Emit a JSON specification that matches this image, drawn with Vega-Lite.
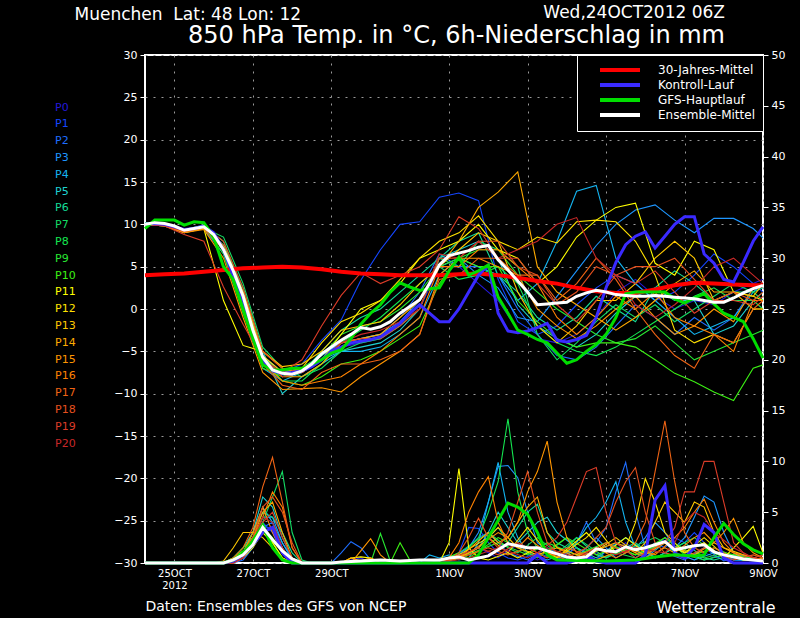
{
  "$schema": "https://vega.github.io/schema/vega-lite/v6.json",
  "width": 618,
  "height": 508,
  "autosize": "none",
  "padding": {"left": 145, "top": 55, "right": 37, "bottom": 55},
  "background": "black",
  "config": {
    "view": {"stroke": "white", "strokeWidth": 2},
    "font": "DejaVu Sans",
    "axis": {"labelFont": "DejaVu Sans", "titleFont": "DejaVu Sans"},
    "legend": {"labelFont": "DejaVu Sans"}
  },
  "title": {
    "text": "Wed,24OCT2012 06Z",
    "subtitle": "850 hPa Temp. in °C, 6h-Niederschlag in mm",
    "anchor": "end",
    "frame": "group",
    "dx": -38,
    "offset": -44,
    "color": "white",
    "subtitleColor": "white",
    "fontSize": 17,
    "subtitleFontSize": 24,
    "fontWeight": "normal",
    "subtitleFontWeight": "normal",
    "font": "DejaVu Sans",
    "subtitleFont": "DejaVu Sans",
    "subtitlePadding": 2
  },
  "datasets": {
    "temp": [
      {"m":"P0","h":0,"t":10},{"m":"P0","h":12,"t":9.9},{"m":"P0","h":24,"t":9.2},{"m":"P0","h":36,"t":9.6},{"m":"P0","h":48,"t":7.5},{"m":"P0","h":60,"t":1.5},{"m":"P0","h":72,"t":-6},{"m":"P0","h":84,"t":-7.8},{"m":"P0","h":96,"t":-7.5},{"m":"P0","h":108,"t":-6},{"m":"P0","h":120,"t":-4.5},{"m":"P0","h":132,"t":-4},{"m":"P0","h":144,"t":-3.5},{"m":"P0","h":156,"t":-2},{"m":"P0","h":168,"t":0},{"m":"P0","h":180,"t":5},{"m":"P0","h":192,"t":5},{"m":"P0","h":204,"t":3},{"m":"P0","h":216,"t":1},{"m":"P0","h":228,"t":-2.5},{"m":"P0","h":240,"t":-3.5},{"m":"P0","h":252,"t":-4},{"m":"P0","h":264,"t":-3},{"m":"P0","h":276,"t":-1},{"m":"P0","h":288,"t":2},{"m":"P0","h":300,"t":3.5},{"m":"P0","h":312,"t":1.5},{"m":"P0","h":324,"t":0},{"m":"P0","h":336,"t":1},{"m":"P0","h":348,"t":0.5},{"m":"P0","h":360,"t":2},{"m":"P0","h":372,"t":3},{"m":"P0","h":378,"t":3.5},
      {"m":"P1","h":0,"t":10.2},{"m":"P1","h":12,"t":10},{"m":"P1","h":24,"t":9.3},{"m":"P1","h":36,"t":9.8},{"m":"P1","h":48,"t":7},{"m":"P1","h":60,"t":0.5},{"m":"P1","h":72,"t":-6.5},{"m":"P1","h":84,"t":-7.5},{"m":"P1","h":96,"t":-6.5},{"m":"P1","h":108,"t":-3.7},{"m":"P1","h":120,"t":-1.3},{"m":"P1","h":132,"t":3.4},{"m":"P1","h":144,"t":7},{"m":"P1","h":156,"t":10},{"m":"P1","h":168,"t":10.3},{"m":"P1","h":180,"t":13.2},{"m":"P1","h":192,"t":13.7},{"m":"P1","h":204,"t":12.8},{"m":"P1","h":216,"t":3.5},{"m":"P1","h":228,"t":-1.5},{"m":"P1","h":240,"t":-3},{"m":"P1","h":252,"t":-2},{"m":"P1","h":264,"t":0.5},{"m":"P1","h":276,"t":2.5},{"m":"P1","h":288,"t":4},{"m":"P1","h":300,"t":3},{"m":"P1","h":312,"t":1},{"m":"P1","h":324,"t":2},{"m":"P1","h":336,"t":4},{"m":"P1","h":348,"t":6.5},{"m":"P1","h":360,"t":5},{"m":"P1","h":372,"t":3},{"m":"P1","h":378,"t":2},
      {"m":"P2","h":0,"t":10},{"m":"P2","h":12,"t":9.8},{"m":"P2","h":24,"t":9},{"m":"P2","h":36,"t":9.5},{"m":"P2","h":48,"t":6.5},{"m":"P2","h":60,"t":0},{"m":"P2","h":72,"t":-6.5},{"m":"P2","h":84,"t":-8},{"m":"P2","h":96,"t":-7},{"m":"P2","h":108,"t":-5.5},{"m":"P2","h":120,"t":-4},{"m":"P2","h":132,"t":-3.5},{"m":"P2","h":144,"t":-3},{"m":"P2","h":156,"t":-1},{"m":"P2","h":168,"t":2},{"m":"P2","h":180,"t":6.5},{"m":"P2","h":192,"t":5},{"m":"P2","h":204,"t":5},{"m":"P2","h":216,"t":4},{"m":"P2","h":228,"t":0},{"m":"P2","h":240,"t":-3},{"m":"P2","h":252,"t":-5.5},{"m":"P2","h":264,"t":-6},{"m":"P2","h":276,"t":-4.5},{"m":"P2","h":288,"t":-2},{"m":"P2","h":300,"t":0.5},{"m":"P2","h":312,"t":-1},{"m":"P2","h":324,"t":-3},{"m":"P2","h":336,"t":-1},{"m":"P2","h":348,"t":-2.5},{"m":"P2","h":360,"t":-1},{"m":"P2","h":372,"t":2.5},{"m":"P2","h":378,"t":3},
      {"m":"P3","h":0,"t":10.1},{"m":"P3","h":12,"t":10},{"m":"P3","h":24,"t":9.2},{"m":"P3","h":36,"t":9.7},{"m":"P3","h":48,"t":7.5},{"m":"P3","h":60,"t":2},{"m":"P3","h":72,"t":-5.5},{"m":"P3","h":84,"t":-7.5},{"m":"P3","h":96,"t":-7},{"m":"P3","h":108,"t":-5.5},{"m":"P3","h":120,"t":-4},{"m":"P3","h":132,"t":-3.5},{"m":"P3","h":144,"t":-3},{"m":"P3","h":156,"t":-1.5},{"m":"P3","h":168,"t":1},{"m":"P3","h":180,"t":5},{"m":"P3","h":192,"t":6},{"m":"P3","h":204,"t":4},{"m":"P3","h":216,"t":2.5},{"m":"P3","h":228,"t":-1},{"m":"P3","h":240,"t":-1.5},{"m":"P3","h":252,"t":1.5},{"m":"P3","h":264,"t":4.5},{"m":"P3","h":276,"t":7.5},{"m":"P3","h":288,"t":10},{"m":"P3","h":300,"t":11.7},{"m":"P3","h":312,"t":12.3},{"m":"P3","h":324,"t":10.5},{"m":"P3","h":336,"t":9},{"m":"P3","h":348,"t":10.7},{"m":"P3","h":360,"t":10.7},{"m":"P3","h":372,"t":9.5},{"m":"P3","h":378,"t":8.4},
      {"m":"P4","h":0,"t":10},{"m":"P4","h":12,"t":9.9},{"m":"P4","h":24,"t":9.1},{"m":"P4","h":36,"t":9.7},{"m":"P4","h":48,"t":7},{"m":"P4","h":60,"t":1},{"m":"P4","h":72,"t":-7},{"m":"P4","h":84,"t":-8.5},{"m":"P4","h":96,"t":-7.5},{"m":"P4","h":108,"t":-6},{"m":"P4","h":120,"t":-5},{"m":"P4","h":132,"t":-5},{"m":"P4","h":144,"t":-4.5},{"m":"P4","h":156,"t":-3},{"m":"P4","h":168,"t":-1},{"m":"P4","h":180,"t":4},{"m":"P4","h":192,"t":6},{"m":"P4","h":204,"t":5},{"m":"P4","h":216,"t":4},{"m":"P4","h":228,"t":1},{"m":"P4","h":240,"t":3},{"m":"P4","h":252,"t":8},{"m":"P4","h":264,"t":13.9},{"m":"P4","h":276,"t":14.6},{"m":"P4","h":288,"t":6},{"m":"P4","h":300,"t":3},{"m":"P4","h":312,"t":1},{"m":"P4","h":324,"t":-1},{"m":"P4","h":336,"t":-3},{"m":"P4","h":348,"t":-2},{"m":"P4","h":360,"t":-1},{"m":"P4","h":372,"t":2},{"m":"P4","h":378,"t":3},
      {"m":"P5","h":0,"t":10},{"m":"P5","h":12,"t":10.1},{"m":"P5","h":24,"t":9.4},{"m":"P5","h":36,"t":9.9},{"m":"P5","h":48,"t":7.5},{"m":"P5","h":60,"t":2.5},{"m":"P5","h":72,"t":-5},{"m":"P5","h":84,"t":-10},{"m":"P5","h":96,"t":-8},{"m":"P5","h":108,"t":-6.5},{"m":"P5","h":120,"t":-5},{"m":"P5","h":132,"t":-4.5},{"m":"P5","h":144,"t":-4},{"m":"P5","h":156,"t":-2.5},{"m":"P5","h":168,"t":0},{"m":"P5","h":180,"t":6},{"m":"P5","h":192,"t":7},{"m":"P5","h":204,"t":8},{"m":"P5","h":216,"t":6},{"m":"P5","h":228,"t":0.5},{"m":"P5","h":240,"t":-2},{"m":"P5","h":252,"t":-3.5},{"m":"P5","h":264,"t":-4.5},{"m":"P5","h":276,"t":-3},{"m":"P5","h":288,"t":-0.5},{"m":"P5","h":300,"t":1.5},{"m":"P5","h":312,"t":2.5},{"m":"P5","h":324,"t":1},{"m":"P5","h":336,"t":1},{"m":"P5","h":348,"t":-3},{"m":"P5","h":360,"t":-2},{"m":"P5","h":372,"t":1},{"m":"P5","h":378,"t":2},
      {"m":"P6","h":0,"t":10.1},{"m":"P6","h":12,"t":10},{"m":"P6","h":24,"t":9.3},{"m":"P6","h":36,"t":9.8},{"m":"P6","h":48,"t":8},{"m":"P6","h":60,"t":2},{"m":"P6","h":72,"t":-5.5},{"m":"P6","h":84,"t":-8},{"m":"P6","h":96,"t":-7.5},{"m":"P6","h":108,"t":-5},{"m":"P6","h":120,"t":-2.5},{"m":"P6","h":132,"t":-1},{"m":"P6","h":144,"t":0},{"m":"P6","h":156,"t":2},{"m":"P6","h":168,"t":4},{"m":"P6","h":180,"t":6},{"m":"P6","h":192,"t":8},{"m":"P6","h":204,"t":9},{"m":"P6","h":216,"t":4},{"m":"P6","h":228,"t":2},{"m":"P6","h":240,"t":-1},{"m":"P6","h":252,"t":-2.5},{"m":"P6","h":264,"t":-1},{"m":"P6","h":276,"t":1.5},{"m":"P6","h":288,"t":0},{"m":"P6","h":300,"t":-1.5},{"m":"P6","h":312,"t":2.5},{"m":"P6","h":324,"t":4.5},{"m":"P6","h":336,"t":3},{"m":"P6","h":348,"t":1},{"m":"P6","h":360,"t":2},{"m":"P6","h":372,"t":2},{"m":"P6","h":378,"t":2.5},
      {"m":"P7","h":0,"t":10},{"m":"P7","h":12,"t":9.9},{"m":"P7","h":24,"t":9.2},{"m":"P7","h":36,"t":9.6},{"m":"P7","h":48,"t":8.5},{"m":"P7","h":60,"t":3},{"m":"P7","h":72,"t":-4.5},{"m":"P7","h":84,"t":-7},{"m":"P7","h":96,"t":-8},{"m":"P7","h":108,"t":-7},{"m":"P7","h":120,"t":-5},{"m":"P7","h":132,"t":-4},{"m":"P7","h":144,"t":-3.5},{"m":"P7","h":156,"t":-2},{"m":"P7","h":168,"t":0},{"m":"P7","h":180,"t":6},{"m":"P7","h":192,"t":5},{"m":"P7","h":204,"t":8},{"m":"P7","h":216,"t":7},{"m":"P7","h":228,"t":5},{"m":"P7","h":240,"t":-3},{"m":"P7","h":252,"t":-6},{"m":"P7","h":264,"t":-4},{"m":"P7","h":276,"t":-1.5},{"m":"P7","h":288,"t":0.5},{"m":"P7","h":300,"t":-1},{"m":"P7","h":312,"t":0.5},{"m":"P7","h":324,"t":-1.5},{"m":"P7","h":336,"t":0},{"m":"P7","h":348,"t":1.5},{"m":"P7","h":360,"t":3},{"m":"P7","h":372,"t":2},{"m":"P7","h":378,"t":1},
      {"m":"P8","h":0,"t":10.2},{"m":"P8","h":12,"t":10.1},{"m":"P8","h":24,"t":9.4},{"m":"P8","h":36,"t":9.8},{"m":"P8","h":48,"t":7},{"m":"P8","h":60,"t":1},{"m":"P8","h":72,"t":-6},{"m":"P8","h":84,"t":-8.5},{"m":"P8","h":96,"t":-8.5},{"m":"P8","h":108,"t":-6.5},{"m":"P8","h":120,"t":-4},{"m":"P8","h":132,"t":-2.5},{"m":"P8","h":144,"t":-1},{"m":"P8","h":156,"t":1},{"m":"P8","h":168,"t":3},{"m":"P8","h":180,"t":5},{"m":"P8","h":192,"t":3.5},{"m":"P8","h":204,"t":4},{"m":"P8","h":216,"t":5},{"m":"P8","h":228,"t":3},{"m":"P8","h":240,"t":-2},{"m":"P8","h":252,"t":-4},{"m":"P8","h":264,"t":-5},{"m":"P8","h":276,"t":-5.5},{"m":"P8","h":288,"t":-4.5},{"m":"P8","h":300,"t":-3},{"m":"P8","h":312,"t":-1.5},{"m":"P8","h":324,"t":0},{"m":"P8","h":336,"t":1.5},{"m":"P8","h":348,"t":2.5},{"m":"P8","h":360,"t":1},{"m":"P8","h":372,"t":1},{"m":"P8","h":378,"t":0},
      {"m":"P9","h":0,"t":10},{"m":"P9","h":12,"t":10},{"m":"P9","h":24,"t":9.2},{"m":"P9","h":36,"t":9.7},{"m":"P9","h":48,"t":6.5},{"m":"P9","h":60,"t":-0.5},{"m":"P9","h":72,"t":-7},{"m":"P9","h":84,"t":-8},{"m":"P9","h":96,"t":-7},{"m":"P9","h":108,"t":-5.5},{"m":"P9","h":120,"t":-3},{"m":"P9","h":132,"t":-2},{"m":"P9","h":144,"t":-1.5},{"m":"P9","h":156,"t":0},{"m":"P9","h":168,"t":2},{"m":"P9","h":180,"t":5},{"m":"P9","h":192,"t":6},{"m":"P9","h":204,"t":7},{"m":"P9","h":216,"t":7},{"m":"P9","h":228,"t":4},{"m":"P9","h":240,"t":2},{"m":"P9","h":252,"t":0},{"m":"P9","h":264,"t":-1.5},{"m":"P9","h":276,"t":-3},{"m":"P9","h":288,"t":-4},{"m":"P9","h":300,"t":-3.5},{"m":"P9","h":312,"t":-2},{"m":"P9","h":324,"t":-4},{"m":"P9","h":336,"t":-6},{"m":"P9","h":348,"t":-5},{"m":"P9","h":360,"t":-4},{"m":"P9","h":372,"t":-3},{"m":"P9","h":378,"t":-2.5},
      {"m":"P10","h":0,"t":10.1},{"m":"P10","h":12,"t":10},{"m":"P10","h":24,"t":9.3},{"m":"P10","h":36,"t":9.8},{"m":"P10","h":48,"t":7.5},{"m":"P10","h":60,"t":1.5},{"m":"P10","h":72,"t":-6},{"m":"P10","h":84,"t":-8.5},{"m":"P10","h":96,"t":-9},{"m":"P10","h":108,"t":-8},{"m":"P10","h":120,"t":-6.5},{"m":"P10","h":132,"t":-6},{"m":"P10","h":144,"t":-5},{"m":"P10","h":156,"t":-3.5},{"m":"P10","h":168,"t":-2},{"m":"P10","h":180,"t":3},{"m":"P10","h":192,"t":6},{"m":"P10","h":204,"t":5},{"m":"P10","h":216,"t":5},{"m":"P10","h":228,"t":1},{"m":"P10","h":240,"t":-1.5},{"m":"P10","h":252,"t":-3.5},{"m":"P10","h":264,"t":-4.5},{"m":"P10","h":276,"t":-4},{"m":"P10","h":288,"t":-4},{"m":"P10","h":300,"t":-4.5},{"m":"P10","h":312,"t":-6},{"m":"P10","h":324,"t":-7.6},{"m":"P10","h":336,"t":-8.6},{"m":"P10","h":348,"t":-9.8},{"m":"P10","h":360,"t":-10.8},{"m":"P10","h":372,"t":-7},{"m":"P10","h":378,"t":-6.6},
      {"m":"P11","h":0,"t":10},{"m":"P11","h":12,"t":9.8},{"m":"P11","h":24,"t":9},{"m":"P11","h":36,"t":9.5},{"m":"P11","h":48,"t":1},{"m":"P11","h":60,"t":-4.3},{"m":"P11","h":72,"t":-5},{"m":"P11","h":84,"t":-7},{"m":"P11","h":96,"t":-7.5},{"m":"P11","h":108,"t":-6},{"m":"P11","h":120,"t":-3},{"m":"P11","h":132,"t":0},{"m":"P11","h":144,"t":1},{"m":"P11","h":156,"t":3},{"m":"P11","h":168,"t":6},{"m":"P11","h":180,"t":7},{"m":"P11","h":192,"t":8},{"m":"P11","h":204,"t":10},{"m":"P11","h":216,"t":7},{"m":"P11","h":228,"t":6},{"m":"P11","h":240,"t":3},{"m":"P11","h":252,"t":5},{"m":"P11","h":264,"t":8.5},{"m":"P11","h":276,"t":10.5},{"m":"P11","h":288,"t":12},{"m":"P11","h":300,"t":12.5},{"m":"P11","h":312,"t":5.4},{"m":"P11","h":324,"t":4},{"m":"P11","h":336,"t":8},{"m":"P11","h":348,"t":7},{"m":"P11","h":360,"t":2},{"m":"P11","h":372,"t":1.5},{"m":"P11","h":378,"t":1},
      {"m":"P12","h":0,"t":10},{"m":"P12","h":12,"t":9.9},{"m":"P12","h":24,"t":9.2},{"m":"P12","h":36,"t":9.6},{"m":"P12","h":48,"t":7},{"m":"P12","h":60,"t":1.5},{"m":"P12","h":72,"t":-5.5},{"m":"P12","h":84,"t":-7.5},{"m":"P12","h":96,"t":-7},{"m":"P12","h":108,"t":-4},{"m":"P12","h":120,"t":-1.5},{"m":"P12","h":132,"t":-0.5},{"m":"P12","h":144,"t":1},{"m":"P12","h":156,"t":3.5},{"m":"P12","h":168,"t":6},{"m":"P12","h":180,"t":8},{"m":"P12","h":192,"t":9},{"m":"P12","h":204,"t":11},{"m":"P12","h":216,"t":8},{"m":"P12","h":228,"t":7},{"m":"P12","h":240,"t":8.5},{"m":"P12","h":252,"t":7.8},{"m":"P12","h":264,"t":10.3},{"m":"P12","h":276,"t":10.5},{"m":"P12","h":288,"t":10.3},{"m":"P12","h":300,"t":8},{"m":"P12","h":312,"t":4},{"m":"P12","h":324,"t":-2.5},{"m":"P12","h":336,"t":-4},{"m":"P12","h":348,"t":-3},{"m":"P12","h":360,"t":-4},{"m":"P12","h":372,"t":0},{"m":"P12","h":378,"t":0},
      {"m":"P13","h":0,"t":10.1},{"m":"P13","h":12,"t":10},{"m":"P13","h":24,"t":9.3},{"m":"P13","h":36,"t":9.8},{"m":"P13","h":48,"t":7.5},{"m":"P13","h":60,"t":2},{"m":"P13","h":72,"t":-5},{"m":"P13","h":84,"t":-6.8},{"m":"P13","h":96,"t":-6.5},{"m":"P13","h":108,"t":-5},{"m":"P13","h":120,"t":-2.5},{"m":"P13","h":132,"t":-2},{"m":"P13","h":144,"t":-1.5},{"m":"P13","h":156,"t":0.5},{"m":"P13","h":168,"t":3},{"m":"P13","h":180,"t":5},{"m":"P13","h":192,"t":7},{"m":"P13","h":204,"t":9},{"m":"P13","h":216,"t":8},{"m":"P13","h":228,"t":2},{"m":"P13","h":240,"t":-2},{"m":"P13","h":252,"t":-4},{"m":"P13","h":264,"t":-2},{"m":"P13","h":276,"t":1},{"m":"P13","h":288,"t":1},{"m":"P13","h":300,"t":3},{"m":"P13","h":312,"t":6},{"m":"P13","h":324,"t":8},{"m":"P13","h":336,"t":6},{"m":"P13","h":348,"t":1},{"m":"P13","h":360,"t":2},{"m":"P13","h":372,"t":1.5},{"m":"P13","h":378,"t":3},
      {"m":"P14","h":0,"t":10},{"m":"P14","h":12,"t":9.9},{"m":"P14","h":24,"t":9.1},{"m":"P14","h":36,"t":9.6},{"m":"P14","h":48,"t":7},{"m":"P14","h":60,"t":1},{"m":"P14","h":72,"t":-6},{"m":"P14","h":84,"t":-8},{"m":"P14","h":96,"t":-8},{"m":"P14","h":108,"t":-6.5},{"m":"P14","h":120,"t":-4},{"m":"P14","h":132,"t":-3.5},{"m":"P14","h":144,"t":-3},{"m":"P14","h":156,"t":-1},{"m":"P14","h":168,"t":1},{"m":"P14","h":180,"t":5},{"m":"P14","h":192,"t":8},{"m":"P14","h":204,"t":12},{"m":"P14","h":216,"t":13.8},{"m":"P14","h":228,"t":16.2},{"m":"P14","h":240,"t":5},{"m":"P14","h":252,"t":2},{"m":"P14","h":264,"t":0.5},{"m":"P14","h":276,"t":-1},{"m":"P14","h":288,"t":-2.5},{"m":"P14","h":300,"t":-1},{"m":"P14","h":312,"t":1},{"m":"P14","h":324,"t":3},{"m":"P14","h":336,"t":4.5},{"m":"P14","h":348,"t":2},{"m":"P14","h":360,"t":2},{"m":"P14","h":372,"t":0},{"m":"P14","h":378,"t":0},
      {"m":"P15","h":0,"t":10},{"m":"P15","h":12,"t":9.8},{"m":"P15","h":24,"t":9},{"m":"P15","h":36,"t":9.4},{"m":"P15","h":48,"t":6},{"m":"P15","h":60,"t":-1},{"m":"P15","h":72,"t":-7.5},{"m":"P15","h":84,"t":-9.5},{"m":"P15","h":96,"t":-9.4},{"m":"P15","h":108,"t":-9.3},{"m":"P15","h":120,"t":-9.8},{"m":"P15","h":132,"t":-8},{"m":"P15","h":144,"t":-6.5},{"m":"P15","h":156,"t":-5},{"m":"P15","h":168,"t":-3},{"m":"P15","h":180,"t":4},{"m":"P15","h":192,"t":6},{"m":"P15","h":204,"t":6},{"m":"P15","h":216,"t":5},{"m":"P15","h":228,"t":4},{"m":"P15","h":240,"t":0},{"m":"P15","h":252,"t":-2},{"m":"P15","h":264,"t":-3.5},{"m":"P15","h":276,"t":-2},{"m":"P15","h":288,"t":0},{"m":"P15","h":300,"t":1.5},{"m":"P15","h":312,"t":-1},{"m":"P15","h":324,"t":-3},{"m":"P15","h":336,"t":-2},{"m":"P15","h":348,"t":0},{"m":"P15","h":360,"t":-1.5},{"m":"P15","h":372,"t":2.5},{"m":"P15","h":378,"t":3},
      {"m":"P16","h":0,"t":10.1},{"m":"P16","h":12,"t":10},{"m":"P16","h":24,"t":9.2},{"m":"P16","h":36,"t":9.7},{"m":"P16","h":48,"t":7.5},{"m":"P16","h":60,"t":1},{"m":"P16","h":72,"t":-6.5},{"m":"P16","h":84,"t":-8.5},{"m":"P16","h":96,"t":-9},{"m":"P16","h":108,"t":-8.5},{"m":"P16","h":120,"t":-8},{"m":"P16","h":132,"t":-6.5},{"m":"P16","h":144,"t":-5},{"m":"P16","h":156,"t":-3},{"m":"P16","h":168,"t":-1},{"m":"P16","h":180,"t":5},{"m":"P16","h":192,"t":5},{"m":"P16","h":204,"t":7},{"m":"P16","h":216,"t":7},{"m":"P16","h":228,"t":5},{"m":"P16","h":240,"t":3},{"m":"P16","h":252,"t":-1},{"m":"P16","h":264,"t":-3},{"m":"P16","h":276,"t":-1},{"m":"P16","h":288,"t":1.5},{"m":"P16","h":300,"t":0},{"m":"P16","h":312,"t":2},{"m":"P16","h":324,"t":-1},{"m":"P16","h":336,"t":-2},{"m":"P16","h":348,"t":-3},{"m":"P16","h":360,"t":-5},{"m":"P16","h":372,"t":1},{"m":"P16","h":378,"t":1},
      {"m":"P17","h":0,"t":10},{"m":"P17","h":12,"t":9.9},{"m":"P17","h":24,"t":9.1},{"m":"P17","h":36,"t":9.6},{"m":"P17","h":48,"t":7},{"m":"P17","h":60,"t":0.5},{"m":"P17","h":72,"t":-6.5},{"m":"P17","h":84,"t":-9},{"m":"P17","h":96,"t":-9.5},{"m":"P17","h":108,"t":-7.5},{"m":"P17","h":120,"t":-6.5},{"m":"P17","h":132,"t":-6.5},{"m":"P17","h":144,"t":-6},{"m":"P17","h":156,"t":-5},{"m":"P17","h":168,"t":-3},{"m":"P17","h":180,"t":3.5},{"m":"P17","h":192,"t":4},{"m":"P17","h":204,"t":6},{"m":"P17","h":216,"t":6},{"m":"P17","h":228,"t":4},{"m":"P17","h":240,"t":4},{"m":"P17","h":252,"t":1},{"m":"P17","h":264,"t":3},{"m":"P17","h":276,"t":6},{"m":"P17","h":288,"t":3.5},{"m":"P17","h":300,"t":0},{"m":"P17","h":312,"t":-3},{"m":"P17","h":324,"t":-5.5},{"m":"P17","h":336,"t":-7},{"m":"P17","h":348,"t":-3},{"m":"P17","h":360,"t":-4},{"m":"P17","h":372,"t":0},{"m":"P17","h":378,"t":1},
      {"m":"P18","h":0,"t":10.1},{"m":"P18","h":12,"t":10},{"m":"P18","h":24,"t":9.3},{"m":"P18","h":36,"t":9.8},{"m":"P18","h":48,"t":8},{"m":"P18","h":60,"t":2.5},{"m":"P18","h":72,"t":-5},{"m":"P18","h":84,"t":-7},{"m":"P18","h":96,"t":-7.5},{"m":"P18","h":108,"t":-6},{"m":"P18","h":120,"t":-4},{"m":"P18","h":132,"t":-3.5},{"m":"P18","h":144,"t":-3.5},{"m":"P18","h":156,"t":-2},{"m":"P18","h":168,"t":0},{"m":"P18","h":180,"t":6},{"m":"P18","h":192,"t":6},{"m":"P18","h":204,"t":8},{"m":"P18","h":216,"t":8},{"m":"P18","h":228,"t":5},{"m":"P18","h":240,"t":4},{"m":"P18","h":252,"t":0.5},{"m":"P18","h":264,"t":2},{"m":"P18","h":276,"t":5},{"m":"P18","h":288,"t":4},{"m":"P18","h":300,"t":5},{"m":"P18","h":312,"t":5},{"m":"P18","h":324,"t":6},{"m":"P18","h":336,"t":3.5},{"m":"P18","h":348,"t":1},{"m":"P18","h":360,"t":2},{"m":"P18","h":372,"t":1},{"m":"P18","h":378,"t":2},
      {"m":"P19","h":0,"t":10},{"m":"P19","h":12,"t":9.8},{"m":"P19","h":24,"t":8.8},{"m":"P19","h":36,"t":8},{"m":"P19","h":48,"t":2.6},{"m":"P19","h":60,"t":-1.8},{"m":"P19","h":72,"t":-6},{"m":"P19","h":84,"t":-7.5},{"m":"P19","h":96,"t":-6},{"m":"P19","h":108,"t":-2},{"m":"P19","h":120,"t":1.6},{"m":"P19","h":132,"t":4.3},{"m":"P19","h":144,"t":3},{"m":"P19","h":156,"t":4},{"m":"P19","h":168,"t":5},{"m":"P19","h":180,"t":7},{"m":"P19","h":192,"t":10.9},{"m":"P19","h":204,"t":9.5},{"m":"P19","h":216,"t":6},{"m":"P19","h":228,"t":6},{"m":"P19","h":240,"t":3},{"m":"P19","h":252,"t":0.5},{"m":"P19","h":264,"t":-1.5},{"m":"P19","h":276,"t":1},{"m":"P19","h":288,"t":4},{"m":"P19","h":300,"t":3},{"m":"P19","h":312,"t":4.5},{"m":"P19","h":324,"t":2},{"m":"P19","h":336,"t":-0.5},{"m":"P19","h":348,"t":1},{"m":"P19","h":360,"t":1},{"m":"P19","h":372,"t":0.5},{"m":"P19","h":378,"t":1.5},
      {"m":"P20","h":0,"t":10},{"m":"P20","h":12,"t":9.9},{"m":"P20","h":24,"t":9.2},{"m":"P20","h":36,"t":9.7},{"m":"P20","h":48,"t":7},{"m":"P20","h":60,"t":1},{"m":"P20","h":72,"t":-6},{"m":"P20","h":84,"t":-8},{"m":"P20","h":96,"t":-7.5},{"m":"P20","h":108,"t":-6},{"m":"P20","h":120,"t":-4},{"m":"P20","h":132,"t":-3},{"m":"P20","h":144,"t":-2.5},{"m":"P20","h":156,"t":-1.5},{"m":"P20","h":168,"t":0},{"m":"P20","h":180,"t":6.5},{"m":"P20","h":192,"t":6},{"m":"P20","h":204,"t":8},{"m":"P20","h":216,"t":6},{"m":"P20","h":228,"t":7},{"m":"P20","h":240,"t":8},{"m":"P20","h":252,"t":10},{"m":"P20","h":264,"t":10.8},{"m":"P20","h":276,"t":6},{"m":"P20","h":288,"t":4},{"m":"P20","h":300,"t":0.5},{"m":"P20","h":312,"t":-1},{"m":"P20","h":324,"t":0.5},{"m":"P20","h":336,"t":2.5},{"m":"P20","h":348,"t":5},{"m":"P20","h":360,"t":6},{"m":"P20","h":372,"t":4},{"m":"P20","h":378,"t":3},
      {"m":"R","h":0,"t":4},{"m":"R","h":12,"t":4.1},{"m":"R","h":24,"t":4.2},{"m":"R","h":36,"t":4.4},{"m":"R","h":48,"t":4.6},{"m":"R","h":60,"t":4.8},{"m":"R","h":72,"t":4.9},{"m":"R","h":84,"t":5},{"m":"R","h":96,"t":4.9},{"m":"R","h":108,"t":4.7},{"m":"R","h":120,"t":4.4},{"m":"R","h":132,"t":4.2},{"m":"R","h":144,"t":4.1},{"m":"R","h":156,"t":4},{"m":"R","h":168,"t":4},{"m":"R","h":180,"t":4},{"m":"R","h":192,"t":4.1},{"m":"R","h":204,"t":4.2},{"m":"R","h":216,"t":4},{"m":"R","h":228,"t":3.7},{"m":"R","h":240,"t":3.3},{"m":"R","h":252,"t":3},{"m":"R","h":264,"t":2.5},{"m":"R","h":276,"t":2.1},{"m":"R","h":288,"t":1.9},{"m":"R","h":300,"t":1.9},{"m":"R","h":312,"t":2.3},{"m":"R","h":324,"t":2.8},{"m":"R","h":336,"t":3.1},{"m":"R","h":348,"t":3},{"m":"R","h":360,"t":2.9},{"m":"R","h":372,"t":2.8},{"m":"R","h":378,"t":2.8},
      {"m":"C","h":0,"t":10},{"m":"C","h":6,"t":10.1},{"m":"C","h":12,"t":10},{"m":"C","h":18,"t":9.7},{"m":"C","h":24,"t":9.4},{"m":"C","h":30,"t":9.5},{"m":"C","h":36,"t":9.8},{"m":"C","h":42,"t":9},{"m":"C","h":48,"t":7},{"m":"C","h":54,"t":4},{"m":"C","h":60,"t":0.5},{"m":"C","h":66,"t":-3.5},{"m":"C","h":72,"t":-6},{"m":"C","h":78,"t":-7.3},{"m":"C","h":84,"t":-7.6},{"m":"C","h":90,"t":-7.5},{"m":"C","h":96,"t":-7.3},{"m":"C","h":102,"t":-6.8},{"m":"C","h":108,"t":-6},{"m":"C","h":114,"t":-5},{"m":"C","h":120,"t":-4.5},{"m":"C","h":126,"t":-4},{"m":"C","h":132,"t":-3.8},{"m":"C","h":138,"t":-3.6},{"m":"C","h":144,"t":-3.3},{"m":"C","h":150,"t":-2.5},{"m":"C","h":156,"t":-1.7},{"m":"C","h":162,"t":-0.5},{"m":"C","h":168,"t":0.5},{"m":"C","h":174,"t":-0.5},{"m":"C","h":180,"t":-1.5},{"m":"C","h":186,"t":-1.5},{"m":"C","h":192,"t":0},{"m":"C","h":198,"t":2},{"m":"C","h":204,"t":4},{"m":"C","h":210,"t":5.2},{"m":"C","h":216,"t":-0.5},{"m":"C","h":222,"t":-2.6},{"m":"C","h":228,"t":-2.8},{"m":"C","h":234,"t":-2.6},{"m":"C","h":240,"t":-2.2},{"m":"C","h":246,"t":-1.7},{"m":"C","h":252,"t":-3.7},{"m":"C","h":258,"t":-3.9},{"m":"C","h":264,"t":-3.6},{"m":"C","h":270,"t":-3.1},{"m":"C","h":276,"t":-1},{"m":"C","h":282,"t":2.5},{"m":"C","h":288,"t":5.5},{"m":"C","h":294,"t":7.6},{"m":"C","h":300,"t":8.6},{"m":"C","h":306,"t":9.1},{"m":"C","h":312,"t":7.2},{"m":"C","h":318,"t":8.6},{"m":"C","h":324,"t":10},{"m":"C","h":330,"t":10.9},{"m":"C","h":336,"t":10.9},{"m":"C","h":342,"t":6.5},{"m":"C","h":348,"t":5.4},{"m":"C","h":354,"t":3.5},{"m":"C","h":360,"t":3.2},{"m":"C","h":366,"t":5.5},{"m":"C","h":372,"t":8},{"m":"C","h":378,"t":9.7},
      {"m":"G","h":0,"t":9.5},{"m":"G","h":6,"t":10.5},{"m":"G","h":12,"t":10.5},{"m":"G","h":18,"t":10.5},{"m":"G","h":24,"t":9.9},{"m":"G","h":30,"t":10.3},{"m":"G","h":36,"t":10.2},{"m":"G","h":42,"t":8.5},{"m":"G","h":48,"t":5},{"m":"G","h":54,"t":3.5},{"m":"G","h":60,"t":0},{"m":"G","h":66,"t":-3.5},{"m":"G","h":72,"t":-6.6},{"m":"G","h":78,"t":-7.2},{"m":"G","h":84,"t":-7.2},{"m":"G","h":90,"t":-7},{"m":"G","h":96,"t":-7},{"m":"G","h":102,"t":-6.5},{"m":"G","h":108,"t":-6},{"m":"G","h":114,"t":-5.2},{"m":"G","h":120,"t":-4.8},{"m":"G","h":126,"t":-3.5},{"m":"G","h":132,"t":-1.8},{"m":"G","h":138,"t":-0.5},{"m":"G","h":144,"t":0.5},{"m":"G","h":150,"t":2},{"m":"G","h":156,"t":3.1},{"m":"G","h":162,"t":2.6},{"m":"G","h":168,"t":2.2},{"m":"G","h":174,"t":2.4},{"m":"G","h":180,"t":2.5},{"m":"G","h":186,"t":4.5},{"m":"G","h":192,"t":6.1},{"m":"G","h":198,"t":4},{"m":"G","h":204,"t":4.5},{"m":"G","h":210,"t":5.2},{"m":"G","h":216,"t":1.4},{"m":"G","h":222,"t":-0.5},{"m":"G","h":228,"t":-2.5},{"m":"G","h":234,"t":-3},{"m":"G","h":240,"t":-3.6},{"m":"G","h":246,"t":-4},{"m":"G","h":252,"t":-5.2},{"m":"G","h":258,"t":-6.4},{"m":"G","h":264,"t":-6},{"m":"G","h":270,"t":-5},{"m":"G","h":276,"t":-4.2},{"m":"G","h":282,"t":-3},{"m":"G","h":288,"t":-1},{"m":"G","h":294,"t":1.8},{"m":"G","h":300,"t":2},{"m":"G","h":306,"t":2},{"m":"G","h":312,"t":2},{"m":"G","h":318,"t":2},{"m":"G","h":324,"t":1.2},{"m":"G","h":330,"t":0.7},{"m":"G","h":336,"t":1.3},{"m":"G","h":342,"t":1.8},{"m":"G","h":348,"t":0.6},{"m":"G","h":354,"t":-0.5},{"m":"G","h":360,"t":-1},{"m":"G","h":366,"t":-1.5},{"m":"G","h":372,"t":-3.5},{"m":"G","h":378,"t":-5.8},
      {"m":"M","h":0,"t":10},{"m":"M","h":6,"t":10.2},{"m":"M","h":12,"t":10.1},{"m":"M","h":18,"t":9.8},{"m":"M","h":24,"t":9.3},{"m":"M","h":30,"t":9.5},{"m":"M","h":36,"t":9.7},{"m":"M","h":42,"t":8.8},{"m":"M","h":48,"t":7},{"m":"M","h":54,"t":4.5},{"m":"M","h":60,"t":1.5},{"m":"M","h":66,"t":-2.5},{"m":"M","h":72,"t":-5.7},{"m":"M","h":78,"t":-7.2},{"m":"M","h":84,"t":-7.6},{"m":"M","h":90,"t":-7.7},{"m":"M","h":96,"t":-7.3},{"m":"M","h":102,"t":-6.5},{"m":"M","h":108,"t":-5.3},{"m":"M","h":114,"t":-4.5},{"m":"M","h":120,"t":-3.7},{"m":"M","h":126,"t":-3},{"m":"M","h":132,"t":-2.2},{"m":"M","h":138,"t":-2.4},{"m":"M","h":144,"t":-2.1},{"m":"M","h":150,"t":-1.5},{"m":"M","h":156,"t":-0.5},{"m":"M","h":162,"t":0.3},{"m":"M","h":168,"t":1.1},{"m":"M","h":174,"t":3},{"m":"M","h":180,"t":5.2},{"m":"M","h":186,"t":6.3},{"m":"M","h":192,"t":6.6},{"m":"M","h":198,"t":6.9},{"m":"M","h":204,"t":7.3},{"m":"M","h":210,"t":7.5},{"m":"M","h":216,"t":5.8},{"m":"M","h":222,"t":4.6},{"m":"M","h":228,"t":3.3},{"m":"M","h":234,"t":2},{"m":"M","h":240,"t":0.5},{"m":"M","h":246,"t":0.6},{"m":"M","h":252,"t":0.7},{"m":"M","h":258,"t":0.8},{"m":"M","h":264,"t":1.5},{"m":"M","h":270,"t":1.9},{"m":"M","h":276,"t":2.2},{"m":"M","h":282,"t":2},{"m":"M","h":288,"t":1.7},{"m":"M","h":294,"t":1.6},{"m":"M","h":300,"t":1.5},{"m":"M","h":306,"t":1.5},{"m":"M","h":312,"t":1.6},{"m":"M","h":318,"t":1.5},{"m":"M","h":324,"t":1.4},{"m":"M","h":330,"t":1.3},{"m":"M","h":336,"t":1.2},{"m":"M","h":342,"t":1},{"m":"M","h":348,"t":0.8},{"m":"M","h":354,"t":0.8},{"m":"M","h":360,"t":1.3},{"m":"M","h":366,"t":1.9},{"m":"M","h":372,"t":2.4},{"m":"M","h":378,"t":2.8}
    ],
    "prec": [
      {"m":"P0","h":0,"p":0},{"m":"P0","h":54,"p":0},{"m":"P0","h":60,"p":0.5},{"m":"P0","h":66,"p":2},{"m":"P0","h":72,"p":3.5},{"m":"P0","h":78,"p":3.5},{"m":"P0","h":84,"p":1.5},{"m":"P0","h":90,"p":0.2},{"m":"P0","h":96,"p":0},{"m":"P0","h":120,"p":0},{"m":"P0","h":126,"p":0.3},{"m":"P0","h":132,"p":0.5},{"m":"P0","h":138,"p":0},{"m":"P0","h":180,"p":0},{"m":"P0","h":186,"p":0.2},{"m":"P0","h":192,"p":0.5},{"m":"P0","h":198,"p":1},{"m":"P0","h":204,"p":1.5},{"m":"P0","h":210,"p":1},{"m":"P0","h":216,"p":0.5},{"m":"P0","h":222,"p":1.2},{"m":"P0","h":228,"p":1.8},{"m":"P0","h":234,"p":0.8},{"m":"P0","h":240,"p":0.3},{"m":"P0","h":252,"p":1},{"m":"P0","h":264,"p":0.3},{"m":"P0","h":276,"p":1},{"m":"P0","h":282,"p":0.5},{"m":"P0","h":294,"p":2},{"m":"P0","h":306,"p":0.5},{"m":"P0","h":318,"p":2.5},{"m":"P0","h":324,"p":1},{"m":"P0","h":336,"p":0.3},{"m":"P0","h":342,"p":1},{"m":"P0","h":354,"p":0.3},{"m":"P0","h":366,"p":0.5},{"m":"P0","h":378,"p":0.2},
      {"m":"P1","h":0,"p":0},{"m":"P1","h":54,"p":0},{"m":"P1","h":60,"p":0.5},{"m":"P1","h":66,"p":2},{"m":"P1","h":72,"p":4},{"m":"P1","h":78,"p":3},{"m":"P1","h":84,"p":1},{"m":"P1","h":90,"p":0},{"m":"P1","h":180,"p":0},{"m":"P1","h":186,"p":0.3},{"m":"P1","h":192,"p":1},{"m":"P1","h":198,"p":3.5},{"m":"P1","h":204,"p":3.4},{"m":"P1","h":210,"p":2},{"m":"P1","h":216,"p":1},{"m":"P1","h":222,"p":0.5},{"m":"P1","h":228,"p":0.3},{"m":"P1","h":240,"p":1},{"m":"P1","h":252,"p":0.3},{"m":"P1","h":264,"p":1.5},{"m":"P1","h":276,"p":0.3},{"m":"P1","h":288,"p":2},{"m":"P1","h":300,"p":0.5},{"m":"P1","h":312,"p":2},{"m":"P1","h":318,"p":1.5},{"m":"P1","h":324,"p":2.5},{"m":"P1","h":330,"p":2},{"m":"P1","h":336,"p":3},{"m":"P1","h":342,"p":2},{"m":"P1","h":348,"p":1},{"m":"P1","h":360,"p":0.3},{"m":"P1","h":378,"p":0.2},
      {"m":"P2","h":0,"p":0},{"m":"P2","h":54,"p":0},{"m":"P2","h":60,"p":0.3},{"m":"P2","h":66,"p":1.5},{"m":"P2","h":72,"p":3.5},{"m":"P2","h":78,"p":4},{"m":"P2","h":84,"p":1.5},{"m":"P2","h":90,"p":0},{"m":"P2","h":114,"p":0},{"m":"P2","h":120,"p":1},{"m":"P2","h":126,"p":2.1},{"m":"P2","h":132,"p":1.5},{"m":"P2","h":138,"p":0.3},{"m":"P2","h":144,"p":0},{"m":"P2","h":180,"p":0},{"m":"P2","h":192,"p":0.8},{"m":"P2","h":204,"p":2.5},{"m":"P2","h":210,"p":3},{"m":"P2","h":216,"p":2},{"m":"P2","h":222,"p":1},{"m":"P2","h":234,"p":0.3},{"m":"P2","h":246,"p":1.5},{"m":"P2","h":258,"p":0.5},{"m":"P2","h":264,"p":2},{"m":"P2","h":270,"p":4},{"m":"P2","h":276,"p":2},{"m":"P2","h":282,"p":3.5},{"m":"P2","h":288,"p":7},{"m":"P2","h":294,"p":9.9},{"m":"P2","h":300,"p":5},{"m":"P2","h":306,"p":1.5},{"m":"P2","h":312,"p":0.5},{"m":"P2","h":318,"p":1},{"m":"P2","h":330,"p":0.3},{"m":"P2","h":342,"p":1.5},{"m":"P2","h":354,"p":0.2},{"m":"P2","h":366,"p":0.8},{"m":"P2","h":378,"p":0.2},
      {"m":"P3","h":0,"p":0},{"m":"P3","h":54,"p":0},{"m":"P3","h":60,"p":0.5},{"m":"P3","h":66,"p":2},{"m":"P3","h":72,"p":4.5},{"m":"P3","h":78,"p":4.5},{"m":"P3","h":84,"p":2},{"m":"P3","h":90,"p":0.3},{"m":"P3","h":96,"p":0},{"m":"P3","h":180,"p":0},{"m":"P3","h":192,"p":1},{"m":"P3","h":198,"p":1.5},{"m":"P3","h":204,"p":3},{"m":"P3","h":210,"p":6},{"m":"P3","h":216,"p":9.5},{"m":"P3","h":222,"p":9.6},{"m":"P3","h":228,"p":8.4},{"m":"P3","h":234,"p":5},{"m":"P3","h":240,"p":2},{"m":"P3","h":252,"p":0.5},{"m":"P3","h":264,"p":0.5},{"m":"P3","h":276,"p":2.5},{"m":"P3","h":288,"p":0.5},{"m":"P3","h":300,"p":1.5},{"m":"P3","h":306,"p":2.5},{"m":"P3","h":312,"p":4},{"m":"P3","h":318,"p":3},{"m":"P3","h":324,"p":1.5},{"m":"P3","h":330,"p":2.5},{"m":"P3","h":336,"p":4.5},{"m":"P3","h":342,"p":6.6},{"m":"P3","h":348,"p":6},{"m":"P3","h":354,"p":3},{"m":"P3","h":360,"p":1},{"m":"P3","h":372,"p":0.3},{"m":"P3","h":378,"p":0.5},
      {"m":"P4","h":0,"p":0},{"m":"P4","h":54,"p":0},{"m":"P4","h":60,"p":1},{"m":"P4","h":66,"p":3},{"m":"P4","h":72,"p":5.5},{"m":"P4","h":78,"p":4},{"m":"P4","h":84,"p":2},{"m":"P4","h":90,"p":0.5},{"m":"P4","h":96,"p":0},{"m":"P4","h":168,"p":0},{"m":"P4","h":174,"p":0.8},{"m":"P4","h":180,"p":0.5},{"m":"P4","h":186,"p":0.8},{"m":"P4","h":192,"p":0.3},{"m":"P4","h":198,"p":0.5},{"m":"P4","h":204,"p":2},{"m":"P4","h":210,"p":6},{"m":"P4","h":216,"p":9.9},{"m":"P4","h":222,"p":5},{"m":"P4","h":228,"p":2.5},{"m":"P4","h":234,"p":1},{"m":"P4","h":246,"p":0.3},{"m":"P4","h":258,"p":1},{"m":"P4","h":264,"p":2},{"m":"P4","h":270,"p":3.5},{"m":"P4","h":276,"p":4.5},{"m":"P4","h":282,"p":6},{"m":"P4","h":288,"p":8},{"m":"P4","h":294,"p":4},{"m":"P4","h":300,"p":1.5},{"m":"P4","h":306,"p":0.5},{"m":"P4","h":318,"p":2},{"m":"P4","h":324,"p":1},{"m":"P4","h":336,"p":0.3},{"m":"P4","h":348,"p":1},{"m":"P4","h":360,"p":0.3},{"m":"P4","h":378,"p":0.2},
      {"m":"P5","h":0,"p":0},{"m":"P5","h":48,"p":0},{"m":"P5","h":54,"p":0.5},{"m":"P5","h":60,"p":1.5},{"m":"P5","h":66,"p":3},{"m":"P5","h":72,"p":6.5},{"m":"P5","h":78,"p":5.5},{"m":"P5","h":84,"p":2.5},{"m":"P5","h":90,"p":0.5},{"m":"P5","h":96,"p":0},{"m":"P5","h":180,"p":0},{"m":"P5","h":192,"p":0.5},{"m":"P5","h":204,"p":1.5},{"m":"P5","h":210,"p":3},{"m":"P5","h":216,"p":5},{"m":"P5","h":222,"p":3.5},{"m":"P5","h":228,"p":2},{"m":"P5","h":234,"p":3},{"m":"P5","h":240,"p":4},{"m":"P5","h":246,"p":4.5},{"m":"P5","h":252,"p":3},{"m":"P5","h":264,"p":1.5},{"m":"P5","h":276,"p":0.5},{"m":"P5","h":294,"p":2.5},{"m":"P5","h":312,"p":0.5},{"m":"P5","h":324,"p":1.5},{"m":"P5","h":342,"p":0.3},{"m":"P5","h":354,"p":0.8},{"m":"P5","h":366,"p":0.3},{"m":"P5","h":378,"p":0.3},
      {"m":"P6","h":0,"p":0},{"m":"P6","h":54,"p":0},{"m":"P6","h":60,"p":1},{"m":"P6","h":66,"p":3},{"m":"P6","h":72,"p":5},{"m":"P6","h":78,"p":4.5},{"m":"P6","h":84,"p":3},{"m":"P6","h":90,"p":1},{"m":"P6","h":96,"p":0},{"m":"P6","h":180,"p":0},{"m":"P6","h":192,"p":0.5},{"m":"P6","h":204,"p":1.5},{"m":"P6","h":210,"p":2.5},{"m":"P6","h":216,"p":3.5},{"m":"P6","h":222,"p":2},{"m":"P6","h":228,"p":3.5},{"m":"P6","h":234,"p":5},{"m":"P6","h":240,"p":5.8},{"m":"P6","h":246,"p":3},{"m":"P6","h":252,"p":2},{"m":"P6","h":258,"p":1.5},{"m":"P6","h":264,"p":2.5},{"m":"P6","h":276,"p":0.8},{"m":"P6","h":282,"p":0.5},{"m":"P6","h":300,"p":2},{"m":"P6","h":312,"p":0.5},{"m":"P6","h":330,"p":2},{"m":"P6","h":342,"p":0.5},{"m":"P6","h":348,"p":0.3},{"m":"P6","h":360,"p":0.8},{"m":"P6","h":378,"p":0.2},
      {"m":"P7","h":0,"p":0},{"m":"P7","h":48,"p":0},{"m":"P7","h":54,"p":0.3},{"m":"P7","h":60,"p":1},{"m":"P7","h":66,"p":2},{"m":"P7","h":72,"p":4},{"m":"P7","h":78,"p":6.5},{"m":"P7","h":84,"p":9},{"m":"P7","h":90,"p":3},{"m":"P7","h":96,"p":0.3},{"m":"P7","h":102,"p":0},{"m":"P7","h":180,"p":0},{"m":"P7","h":192,"p":1},{"m":"P7","h":210,"p":3},{"m":"P7","h":222,"p":1.5},{"m":"P7","h":228,"p":1},{"m":"P7","h":240,"p":2.5},{"m":"P7","h":252,"p":1},{"m":"P7","h":264,"p":2.5},{"m":"P7","h":282,"p":0.5},{"m":"P7","h":312,"p":2.5},{"m":"P7","h":324,"p":1.5},{"m":"P7","h":336,"p":2.5},{"m":"P7","h":348,"p":1},{"m":"P7","h":366,"p":0.3},{"m":"P7","h":378,"p":0.2},
      {"m":"P8","h":0,"p":0},{"m":"P8","h":48,"p":0},{"m":"P8","h":54,"p":0.5},{"m":"P8","h":60,"p":1.5},{"m":"P8","h":66,"p":2.5},{"m":"P8","h":72,"p":4},{"m":"P8","h":78,"p":2},{"m":"P8","h":84,"p":0.5},{"m":"P8","h":90,"p":0},{"m":"P8","h":180,"p":0},{"m":"P8","h":192,"p":0.5},{"m":"P8","h":204,"p":2.5},{"m":"P8","h":210,"p":5},{"m":"P8","h":216,"p":8},{"m":"P8","h":222,"p":14.2},{"m":"P8","h":228,"p":7},{"m":"P8","h":234,"p":3},{"m":"P8","h":240,"p":1.5},{"m":"P8","h":246,"p":1},{"m":"P8","h":258,"p":2.5},{"m":"P8","h":270,"p":0.5},{"m":"P8","h":276,"p":0.3},{"m":"P8","h":288,"p":1},{"m":"P8","h":300,"p":0.5},{"m":"P8","h":318,"p":2.5},{"m":"P8","h":330,"p":0.8},{"m":"P8","h":342,"p":0.3},{"m":"P8","h":354,"p":0.8},{"m":"P8","h":378,"p":0.1},
      {"m":"P9","h":0,"p":0},{"m":"P9","h":48,"p":0},{"m":"P9","h":54,"p":0.5},{"m":"P9","h":60,"p":1.5},{"m":"P9","h":66,"p":2.5},{"m":"P9","h":72,"p":3.5},{"m":"P9","h":78,"p":2.5},{"m":"P9","h":84,"p":1},{"m":"P9","h":90,"p":0},{"m":"P9","h":138,"p":0},{"m":"P9","h":144,"p":2.9},{"m":"P9","h":150,"p":0.2},{"m":"P9","h":156,"p":0},{"m":"P9","h":180,"p":0},{"m":"P9","h":192,"p":0.5},{"m":"P9","h":216,"p":2},{"m":"P9","h":234,"p":0.8},{"m":"P9","h":246,"p":2},{"m":"P9","h":264,"p":0.8},{"m":"P9","h":282,"p":2},{"m":"P9","h":300,"p":0.8},{"m":"P9","h":318,"p":2},{"m":"P9","h":336,"p":0.8},{"m":"P9","h":342,"p":0.5},{"m":"P9","h":354,"p":1},{"m":"P9","h":378,"p":0.3},
      {"m":"P10","h":0,"p":0},{"m":"P10","h":48,"p":0},{"m":"P10","h":54,"p":0.5},{"m":"P10","h":60,"p":1.2},{"m":"P10","h":66,"p":2},{"m":"P10","h":72,"p":3.5},{"m":"P10","h":78,"p":2},{"m":"P10","h":84,"p":0.5},{"m":"P10","h":90,"p":0},{"m":"P10","h":150,"p":0},{"m":"P10","h":156,"p":2},{"m":"P10","h":162,"p":0.3},{"m":"P10","h":168,"p":0},{"m":"P10","h":180,"p":0.2},{"m":"P10","h":192,"p":1},{"m":"P10","h":198,"p":0.5},{"m":"P10","h":216,"p":2.5},{"m":"P10","h":240,"p":0.5},{"m":"P10","h":258,"p":2.5},{"m":"P10","h":276,"p":0.8},{"m":"P10","h":288,"p":1.5},{"m":"P10","h":300,"p":0.8},{"m":"P10","h":318,"p":2.5},{"m":"P10","h":336,"p":0.8},{"m":"P10","h":348,"p":1.5},{"m":"P10","h":366,"p":0.3},{"m":"P10","h":378,"p":0.3},
      {"m":"P11","h":0,"p":0},{"m":"P11","h":54,"p":0},{"m":"P11","h":60,"p":0.5},{"m":"P11","h":66,"p":1.5},{"m":"P11","h":72,"p":3},{"m":"P11","h":78,"p":2},{"m":"P11","h":84,"p":0.5},{"m":"P11","h":90,"p":0},{"m":"P11","h":120,"p":0},{"m":"P11","h":126,"p":0.5},{"m":"P11","h":132,"p":0.6},{"m":"P11","h":138,"p":0.5},{"m":"P11","h":144,"p":0},{"m":"P11","h":180,"p":0},{"m":"P11","h":186,"p":2},{"m":"P11","h":192,"p":9.3},{"m":"P11","h":198,"p":1.5},{"m":"P11","h":204,"p":0.5},{"m":"P11","h":210,"p":0.3},{"m":"P11","h":222,"p":1},{"m":"P11","h":228,"p":0.5},{"m":"P11","h":240,"p":1.5},{"m":"P11","h":252,"p":0.5},{"m":"P11","h":270,"p":3},{"m":"P11","h":282,"p":1},{"m":"P11","h":294,"p":2.5},{"m":"P11","h":306,"p":1},{"m":"P11","h":318,"p":2},{"m":"P11","h":330,"p":1},{"m":"P11","h":342,"p":2},{"m":"P11","h":354,"p":0.5},{"m":"P11","h":360,"p":1.5},{"m":"P11","h":366,"p":2.5},{"m":"P11","h":372,"p":3.6},{"m":"P11","h":378,"p":1},
      {"m":"P12","h":0,"p":0},{"m":"P12","h":54,"p":0},{"m":"P12","h":60,"p":0.8},{"m":"P12","h":66,"p":2},{"m":"P12","h":72,"p":3},{"m":"P12","h":78,"p":3.5},{"m":"P12","h":84,"p":1.5},{"m":"P12","h":90,"p":0},{"m":"P12","h":180,"p":0},{"m":"P12","h":192,"p":0.8},{"m":"P12","h":210,"p":2.5},{"m":"P12","h":222,"p":1},{"m":"P12","h":234,"p":3.5},{"m":"P12","h":246,"p":1},{"m":"P12","h":252,"p":0.5},{"m":"P12","h":270,"p":2.5},{"m":"P12","h":276,"p":3.5},{"m":"P12","h":288,"p":1},{"m":"P12","h":294,"p":1.5},{"m":"P12","h":300,"p":4},{"m":"P12","h":306,"p":8.3},{"m":"P12","h":312,"p":6},{"m":"P12","h":318,"p":3},{"m":"P12","h":330,"p":1},{"m":"P12","h":342,"p":2.5},{"m":"P12","h":354,"p":0.8},{"m":"P12","h":366,"p":0.3},{"m":"P12","h":378,"p":0.3},
      {"m":"P13","h":0,"p":0},{"m":"P13","h":42,"p":0},{"m":"P13","h":48,"p":0.2},{"m":"P13","h":54,"p":1.5},{"m":"P13","h":60,"p":3},{"m":"P13","h":66,"p":3},{"m":"P13","h":72,"p":2.5},{"m":"P13","h":78,"p":1.5},{"m":"P13","h":84,"p":0.5},{"m":"P13","h":90,"p":0},{"m":"P13","h":180,"p":0},{"m":"P13","h":192,"p":0.5},{"m":"P13","h":204,"p":1.5},{"m":"P13","h":216,"p":3.5},{"m":"P13","h":228,"p":1.5},{"m":"P13","h":240,"p":0.8},{"m":"P13","h":252,"p":1.5},{"m":"P13","h":270,"p":0.5},{"m":"P13","h":288,"p":2.5},{"m":"P13","h":300,"p":1},{"m":"P13","h":306,"p":2},{"m":"P13","h":312,"p":4},{"m":"P13","h":318,"p":6},{"m":"P13","h":324,"p":5},{"m":"P13","h":330,"p":4},{"m":"P13","h":336,"p":6},{"m":"P13","h":342,"p":5.5},{"m":"P13","h":348,"p":3},{"m":"P13","h":354,"p":1.5},{"m":"P13","h":366,"p":0.8},{"m":"P13","h":378,"p":0.3},
      {"m":"P14","h":0,"p":0},{"m":"P14","h":48,"p":0},{"m":"P14","h":54,"p":0.5},{"m":"P14","h":60,"p":1},{"m":"P14","h":66,"p":2.5},{"m":"P14","h":72,"p":5},{"m":"P14","h":78,"p":6},{"m":"P14","h":84,"p":3},{"m":"P14","h":90,"p":0.5},{"m":"P14","h":96,"p":0},{"m":"P14","h":120,"p":0},{"m":"P14","h":126,"p":0.5},{"m":"P14","h":132,"p":0.2},{"m":"P14","h":138,"p":0.5},{"m":"P14","h":144,"p":0},{"m":"P14","h":180,"p":0},{"m":"P14","h":192,"p":0.5},{"m":"P14","h":210,"p":3},{"m":"P14","h":216,"p":2},{"m":"P14","h":222,"p":2.5},{"m":"P14","h":228,"p":4},{"m":"P14","h":234,"p":5.5},{"m":"P14","h":240,"p":6.5},{"m":"P14","h":246,"p":3},{"m":"P14","h":252,"p":1.5},{"m":"P14","h":264,"p":0.5},{"m":"P14","h":288,"p":2},{"m":"P14","h":306,"p":0.8},{"m":"P14","h":318,"p":2},{"m":"P14","h":336,"p":0.8},{"m":"P14","h":348,"p":2},{"m":"P14","h":366,"p":0.5},{"m":"P14","h":372,"p":0.3},{"m":"P14","h":378,"p":0.5},
      {"m":"P15","h":0,"p":0},{"m":"P15","h":54,"p":0},{"m":"P15","h":60,"p":1},{"m":"P15","h":66,"p":3},{"m":"P15","h":72,"p":5.5},{"m":"P15","h":78,"p":3},{"m":"P15","h":84,"p":1},{"m":"P15","h":90,"p":0},{"m":"P15","h":126,"p":0},{"m":"P15","h":132,"p":1.2},{"m":"P15","h":138,"p":2.4},{"m":"P15","h":144,"p":0.8},{"m":"P15","h":150,"p":0},{"m":"P15","h":180,"p":0},{"m":"P15","h":198,"p":1},{"m":"P15","h":216,"p":3},{"m":"P15","h":222,"p":2.5},{"m":"P15","h":228,"p":4},{"m":"P15","h":234,"p":7},{"m":"P15","h":240,"p":9},{"m":"P15","h":246,"p":12},{"m":"P15","h":252,"p":6},{"m":"P15","h":258,"p":2.5},{"m":"P15","h":264,"p":1},{"m":"P15","h":276,"p":0.3},{"m":"P15","h":294,"p":1.5},{"m":"P15","h":306,"p":0.5},{"m":"P15","h":318,"p":1.5},{"m":"P15","h":324,"p":1},{"m":"P15","h":336,"p":2.5},{"m":"P15","h":342,"p":3},{"m":"P15","h":348,"p":2},{"m":"P15","h":354,"p":3},{"m":"P15","h":360,"p":4.4},{"m":"P15","h":366,"p":2},{"m":"P15","h":372,"p":1},{"m":"P15","h":378,"p":0.5},
      {"m":"P16","h":0,"p":0},{"m":"P16","h":48,"p":0},{"m":"P16","h":54,"p":0.3},{"m":"P16","h":60,"p":1},{"m":"P16","h":66,"p":2.5},{"m":"P16","h":72,"p":4.5},{"m":"P16","h":78,"p":7},{"m":"P16","h":84,"p":5.5},{"m":"P16","h":90,"p":1.5},{"m":"P16","h":96,"p":0},{"m":"P16","h":180,"p":0},{"m":"P16","h":186,"p":0.5},{"m":"P16","h":192,"p":2},{"m":"P16","h":198,"p":5},{"m":"P16","h":204,"p":7},{"m":"P16","h":210,"p":8.5},{"m":"P16","h":216,"p":4},{"m":"P16","h":222,"p":2},{"m":"P16","h":228,"p":1.5},{"m":"P16","h":234,"p":2.5},{"m":"P16","h":246,"p":1},{"m":"P16","h":258,"p":0.3},{"m":"P16","h":276,"p":1.5},{"m":"P16","h":288,"p":0.5},{"m":"P16","h":300,"p":1.5},{"m":"P16","h":312,"p":0.8},{"m":"P16","h":324,"p":2.5},{"m":"P16","h":330,"p":3.5},{"m":"P16","h":336,"p":5},{"m":"P16","h":342,"p":6.3},{"m":"P16","h":348,"p":4},{"m":"P16","h":354,"p":2},{"m":"P16","h":360,"p":1},{"m":"P16","h":378,"p":0.3},
      {"m":"P17","h":0,"p":0},{"m":"P17","h":48,"p":0},{"m":"P17","h":54,"p":0.5},{"m":"P17","h":60,"p":1.5},{"m":"P17","h":66,"p":3.5},{"m":"P17","h":72,"p":7.5},{"m":"P17","h":78,"p":10.4},{"m":"P17","h":84,"p":6},{"m":"P17","h":90,"p":1.5},{"m":"P17","h":96,"p":0},{"m":"P17","h":180,"p":0},{"m":"P17","h":198,"p":0.8},{"m":"P17","h":210,"p":1.5},{"m":"P17","h":222,"p":0.8},{"m":"P17","h":234,"p":1.5},{"m":"P17","h":246,"p":0.5},{"m":"P17","h":258,"p":1.5},{"m":"P17","h":270,"p":0.8},{"m":"P17","h":282,"p":2},{"m":"P17","h":294,"p":1},{"m":"P17","h":300,"p":2},{"m":"P17","h":306,"p":4},{"m":"P17","h":312,"p":9},{"m":"P17","h":318,"p":14},{"m":"P17","h":324,"p":8},{"m":"P17","h":330,"p":3},{"m":"P17","h":336,"p":1.5},{"m":"P17","h":342,"p":1},{"m":"P17","h":348,"p":1.5},{"m":"P17","h":360,"p":0.5},{"m":"P17","h":378,"p":0.2},
      {"m":"P18","h":0,"p":0},{"m":"P18","h":54,"p":0},{"m":"P18","h":60,"p":1},{"m":"P18","h":66,"p":2.5},{"m":"P18","h":72,"p":5.5},{"m":"P18","h":78,"p":6.5},{"m":"P18","h":84,"p":5},{"m":"P18","h":90,"p":2},{"m":"P18","h":96,"p":0},{"m":"P18","h":180,"p":0},{"m":"P18","h":186,"p":0.3},{"m":"P18","h":192,"p":1},{"m":"P18","h":198,"p":2.5},{"m":"P18","h":204,"p":4.4},{"m":"P18","h":210,"p":2.5},{"m":"P18","h":216,"p":1.5},{"m":"P18","h":222,"p":3},{"m":"P18","h":228,"p":6},{"m":"P18","h":234,"p":9},{"m":"P18","h":240,"p":5},{"m":"P18","h":246,"p":2},{"m":"P18","h":252,"p":1},{"m":"P18","h":258,"p":0.5},{"m":"P18","h":270,"p":1.5},{"m":"P18","h":282,"p":3.5},{"m":"P18","h":288,"p":6},{"m":"P18","h":294,"p":8},{"m":"P18","h":300,"p":9.4},{"m":"P18","h":306,"p":5},{"m":"P18","h":312,"p":2},{"m":"P18","h":318,"p":1},{"m":"P18","h":330,"p":0.5},{"m":"P18","h":342,"p":1.5},{"m":"P18","h":360,"p":0.3},{"m":"P18","h":372,"p":0.8},{"m":"P18","h":378,"p":0.5},
      {"m":"P19","h":0,"p":0},{"m":"P19","h":54,"p":0},{"m":"P19","h":60,"p":0.5},{"m":"P19","h":66,"p":2},{"m":"P19","h":72,"p":4},{"m":"P19","h":78,"p":5},{"m":"P19","h":84,"p":2.5},{"m":"P19","h":90,"p":0.5},{"m":"P19","h":96,"p":0},{"m":"P19","h":180,"p":0},{"m":"P19","h":204,"p":1.5},{"m":"P19","h":216,"p":0.8},{"m":"P19","h":228,"p":2},{"m":"P19","h":240,"p":1},{"m":"P19","h":252,"p":2.5},{"m":"P19","h":258,"p":4},{"m":"P19","h":264,"p":6.5},{"m":"P19","h":270,"p":9},{"m":"P19","h":276,"p":9.4},{"m":"P19","h":282,"p":5},{"m":"P19","h":288,"p":2},{"m":"P19","h":300,"p":0.5},{"m":"P19","h":318,"p":2},{"m":"P19","h":324,"p":3.5},{"m":"P19","h":330,"p":7},{"m":"P19","h":336,"p":7},{"m":"P19","h":342,"p":10},{"m":"P19","h":348,"p":10},{"m":"P19","h":354,"p":6},{"m":"P19","h":360,"p":2},{"m":"P19","h":366,"p":1},{"m":"P19","h":372,"p":0.5},{"m":"P19","h":378,"p":0.8},
      {"m":"P20","h":0,"p":0},{"m":"P20","h":54,"p":0},{"m":"P20","h":60,"p":0.5},{"m":"P20","h":66,"p":2},{"m":"P20","h":72,"p":4.5},{"m":"P20","h":78,"p":4},{"m":"P20","h":84,"p":1.5},{"m":"P20","h":90,"p":0},{"m":"P20","h":180,"p":0},{"m":"P20","h":198,"p":0.5},{"m":"P20","h":216,"p":1.5},{"m":"P20","h":234,"p":0.5},{"m":"P20","h":246,"p":1.5},{"m":"P20","h":264,"p":0.5},{"m":"P20","h":276,"p":1.5},{"m":"P20","h":288,"p":0.8},{"m":"P20","h":300,"p":1.5},{"m":"P20","h":318,"p":1},{"m":"P20","h":324,"p":2},{"m":"P20","h":330,"p":4},{"m":"P20","h":336,"p":5},{"m":"P20","h":342,"p":4.5},{"m":"P20","h":348,"p":3},{"m":"P20","h":360,"p":1.5},{"m":"P20","h":372,"p":0.5},{"m":"P20","h":378,"p":0.3},
      {"m":"C","h":0,"p":0},{"m":"C","h":48,"p":0},{"m":"C","h":54,"p":0.2},{"m":"C","h":60,"p":0.8},{"m":"C","h":66,"p":1.8},{"m":"C","h":72,"p":3},{"m":"C","h":78,"p":3.5},{"m":"C","h":84,"p":1},{"m":"C","h":90,"p":0},{"m":"C","h":234,"p":0},{"m":"C","h":240,"p":0.8},{"m":"C","h":246,"p":0},{"m":"C","h":258,"p":0},{"m":"C","h":264,"p":0.3},{"m":"C","h":270,"p":0.6},{"m":"C","h":276,"p":0.2},{"m":"C","h":282,"p":0},{"m":"C","h":300,"p":0},{"m":"C","h":306,"p":0.8},{"m":"C","h":312,"p":6.2},{"m":"C","h":318,"p":7.6},{"m":"C","h":324,"p":1},{"m":"C","h":330,"p":0.5},{"m":"C","h":336,"p":1.5},{"m":"C","h":342,"p":3.8},{"m":"C","h":348,"p":3},{"m":"C","h":354,"p":0.5},{"m":"C","h":360,"p":0},{"m":"C","h":378,"p":0},
      {"m":"G","h":0,"p":0},{"m":"G","h":48,"p":0},{"m":"G","h":54,"p":0.3},{"m":"G","h":60,"p":1},{"m":"G","h":66,"p":2.2},{"m":"G","h":72,"p":3.7},{"m":"G","h":78,"p":1.5},{"m":"G","h":84,"p":0.3},{"m":"G","h":90,"p":0},{"m":"G","h":198,"p":0},{"m":"G","h":204,"p":0.8},{"m":"G","h":210,"p":2.5},{"m":"G","h":216,"p":4.2},{"m":"G","h":222,"p":5.9},{"m":"G","h":228,"p":5.5},{"m":"G","h":234,"p":4.8},{"m":"G","h":240,"p":3},{"m":"G","h":246,"p":0.8},{"m":"G","h":252,"p":0.3},{"m":"G","h":282,"p":0.2},{"m":"G","h":300,"p":0.3},{"m":"G","h":312,"p":0.6},{"m":"G","h":324,"p":0.8},{"m":"G","h":336,"p":0.7},{"m":"G","h":342,"p":0.8},{"m":"G","h":348,"p":2.5},{"m":"G","h":354,"p":3.9},{"m":"G","h":360,"p":2.8},{"m":"G","h":366,"p":1.9},{"m":"G","h":372,"p":1.3},{"m":"G","h":378,"p":0.9},
      {"m":"M","h":0,"p":0},{"m":"M","h":48,"p":0},{"m":"M","h":54,"p":0.3},{"m":"M","h":60,"p":0.8},{"m":"M","h":66,"p":1.8},{"m":"M","h":72,"p":3.5},{"m":"M","h":78,"p":2.3},{"m":"M","h":84,"p":1.2},{"m":"M","h":90,"p":0.4},{"m":"M","h":96,"p":0},{"m":"M","h":114,"p":0},{"m":"M","h":120,"p":0.1},{"m":"M","h":132,"p":0.2},{"m":"M","h":144,"p":0.3},{"m":"M","h":156,"p":0.2},{"m":"M","h":168,"p":0.3},{"m":"M","h":180,"p":0.3},{"m":"M","h":186,"p":0.5},{"m":"M","h":192,"p":0.6},{"m":"M","h":198,"p":0.3},{"m":"M","h":204,"p":0.5},{"m":"M","h":210,"p":0.7},{"m":"M","h":216,"p":1.3},{"m":"M","h":222,"p":1.9},{"m":"M","h":228,"p":1.7},{"m":"M","h":234,"p":1.5},{"m":"M","h":240,"p":1.5},{"m":"M","h":246,"p":1.2},{"m":"M","h":252,"p":0.9},{"m":"M","h":258,"p":0.6},{"m":"M","h":264,"p":0.5},{"m":"M","h":270,"p":0.6},{"m":"M","h":276,"p":1.4},{"m":"M","h":282,"p":1.2},{"m":"M","h":288,"p":1.1},{"m":"M","h":294,"p":1.6},{"m":"M","h":300,"p":1.3},{"m":"M","h":306,"p":1.5},{"m":"M","h":312,"p":1.8},{"m":"M","h":318,"p":2.1},{"m":"M","h":324,"p":1.3},{"m":"M","h":330,"p":1.5},{"m":"M","h":336,"p":1.7},{"m":"M","h":342,"p":1.8},{"m":"M","h":348,"p":1.1},{"m":"M","h":354,"p":0.8},{"m":"M","h":360,"p":0.6},{"m":"M","h":366,"p":0.4},{"m":"M","h":372,"p":0.3},{"m":"M","h":378,"p":0.2}
    ]
  },
  "encoding": {
    "x": {
      "field": "h",
      "type": "quantitative",
      "scale": {"domain": [0, 378], "nice": false, "zero": false},
      "axis": {
        "values": [18, 66, 114, 186, 234, 282, 330, 378],
        "labelExpr": "datum.value == 18 ? ['25OCT', '2012'] : datum.value == 66 ? '27OCT' : datum.value == 114 ? '29OCT' : datum.value == 186 ? '1NOV' : datum.value == 234 ? '3NOV' : datum.value == 282 ? '5NOV' : datum.value == 330 ? '7NOV' : '9NOV'",
        "grid": true,
        "gridColor": "#9a9a9a",
        "gridDash": [2, 6],
        "ticks": false,
        "domain": false,
        "labelColor": "white",
        "labelFontSize": 10,
        "labelPadding": 5,
        "labelFlush": false,
        "labelOverlap": false,
        "title": "Daten: Ensembles des GFS von NCEP",
        "titleColor": "white",
        "titleFontSize": 14,
        "titleFontWeight": "normal",
        "titleX": 0,
        "titleY": 47,
        "titleAlign": "left",
        "titleBaseline": "alphabetic"
      }
    }
  },
  "layer": [
    {
      "data": {"name": "temp"},
      "encoding": {
        "y": {
          "field": "t",
          "type": "quantitative",
          "scale": {"domain": [-30, 30], "nice": false},
          "axis": {
            "orient": "left",
            "values": [-30, -25, -20, -15, -10, -5, 0, 5, 10, 15, 20, 25, 30],
            "grid": true,
            "gridColor": "#9a9a9a",
            "gridDash": [2, 6],
            "domain": false,
            "tickColor": "white",
            "tickSize": 5,
            "labelColor": "white",
            "labelFontSize": 11,
            "labelPadding": 3,
            "title": "Muenchen\u00a0 Lat: 48 Lon: 12",
            "titleColor": "white",
            "titleFontSize": 17,
            "titleFontWeight": "normal",
            "titleAngle": 0,
            "titleX": -71,
            "titleY": -36,
            "titleAlign": "left",
            "titleBaseline": "alphabetic"
          }
        }
      },
      "layer": [
        {
          "transform": [{"filter": "test(/^P/, datum.m)"}],
          "mark": {"type": "line", "strokeWidth": 1.1},
          "encoding": {
            "color": {
              "field": "m",
              "type": "nominal",
              "scale": {
                "domain": ["P0","P1","P2","P3","P4","P5","P6","P7","P8","P9","P10","P11","P12","P13","P14","P15","P16","P17","P18","P19","P20"],
                "range": ["#2418d8","#1446ff","#1e6eff","#1e96ff","#14b4f0","#1ed2d2","#14dc96","#14dc64","#14e650","#28e632","#3cf014","#ffff00","#ffe100","#ffc800","#ffaa00","#ff9600","#ff8200","#f06414","#e6501e","#dc3c28","#c82828"]
              },
              "legend": {"orient": "none", "legendX": -101, "legendY": 47, "title": null, "padding": 0, "symbolOpacity": 0, "symbolSize": 0, "symbolStrokeWidth": 0, "labelOffset": 0, "labelFontSize": 11, "rowPadding": 4.8, "labelColor": {"expr": "scale('color', datum.value)"}}
            }
          }
        },
        {
          "encoding": {
            "stroke": {
              "field": "m",
              "type": "nominal",
              "scale": {"domain": ["R", "C", "G", "M"], "range": ["#ff0000", "#3a2aff", "#00dd00", "#ffffff"]},
              "legend": {"orient": "top-right", "offset": 0, "title": null, "fillColor": "black", "strokeColor": "white", "padding": 8, "symbolOffset": 28, "symbolType": "M-4,0H4", "symbolSize": 100, "symbolStrokeWidth": 4, "labelOffset": 31, "labelColor": "white", "labelFontSize": 12, "rowPadding": -1.5, "labelExpr": "datum.label == 'R' ? '30-Jahres-Mittel' : datum.label == 'C' ? 'Kontroll-Lauf' : datum.label == 'G' ? 'GFS-Hauptlauf' : 'Ensemble-Mittel'"}
            }
          },
          "layer": [
            {"transform": [{"filter": "datum.m == 'R'"}], "mark": {"type": "line", "strokeWidth": 4}},
            {"transform": [{"filter": "datum.m == 'C'"}], "mark": {"type": "line", "strokeWidth": 3}},
            {"transform": [{"filter": "datum.m == 'G'"}], "mark": {"type": "line", "strokeWidth": 3}},
            {"transform": [{"filter": "datum.m == 'M'"}], "mark": {"type": "line", "strokeWidth": 3}}
          ]
        }
      ]
    },
    {
      "data": {"name": "prec"},
      "encoding": {
        "y": {
          "field": "p",
          "type": "quantitative",
          "scale": {"domain": [0, 50], "nice": false},
          "axis": {
            "orient": "right",
            "values": [0, 5, 10, 15, 20, 25, 30, 35, 40, 45, 50],
            "grid": false,
            "domain": false,
            "tickColor": "white",
            "tickSize": 5,
            "labelColor": "white",
            "labelFontSize": 11,
            "labelPadding": 3,
            "title": "Wetterzentrale",
            "titleColor": "white",
            "titleFontSize": 16,
            "titleFontWeight": "normal",
            "titleAngle": 0,
            "titleX": 12,
            "titleY": 557,
            "titleAlign": "right",
            "titleBaseline": "alphabetic"
          }
        }
      },
      "layer": [
        {
          "transform": [{"filter": "test(/^P/, datum.m)"}],
          "mark": {"type": "line", "strokeWidth": 1.1},
          "encoding": {
            "color": {
              "field": "m",
              "type": "nominal",
              "scale": {
                "domain": ["P0","P1","P2","P3","P4","P5","P6","P7","P8","P9","P10","P11","P12","P13","P14","P15","P16","P17","P18","P19","P20"],
                "range": ["#2418d8","#1446ff","#1e6eff","#1e96ff","#14b4f0","#1ed2d2","#14dc96","#14dc64","#14e650","#28e632","#3cf014","#ffff00","#ffe100","#ffc800","#ffaa00","#ff9600","#ff8200","#f06414","#e6501e","#dc3c28","#c82828"]
              },
              "legend": {"orient": "none", "legendX": -101, "legendY": 47, "title": null, "padding": 0, "symbolOpacity": 0, "symbolSize": 0, "symbolStrokeWidth": 0, "labelOffset": 0, "labelFontSize": 11, "rowPadding": 4.8, "labelColor": {"expr": "scale('color', datum.value)"}}
            }
          }
        },
        {
          "encoding": {
            "stroke": {
              "field": "m",
              "type": "nominal",
              "scale": {"domain": ["R", "C", "G", "M"], "range": ["#ff0000", "#3a2aff", "#00dd00", "#ffffff"]},
              "legend": {"orient": "top-right", "offset": 0, "title": null, "fillColor": "black", "strokeColor": "white", "padding": 8, "symbolOffset": 28, "symbolType": "M-4,0H4", "symbolSize": 100, "symbolStrokeWidth": 4, "labelOffset": 31, "labelColor": "white", "labelFontSize": 12, "rowPadding": -1.5, "labelExpr": "datum.label == 'R' ? '30-Jahres-Mittel' : datum.label == 'C' ? 'Kontroll-Lauf' : datum.label == 'G' ? 'GFS-Hauptlauf' : 'Ensemble-Mittel'"}
            }
          },
          "layer": [
            {"transform": [{"filter": "datum.m == 'C'"}], "mark": {"type": "line", "strokeWidth": 3}},
            {"transform": [{"filter": "datum.m == 'G'"}], "mark": {"type": "line", "strokeWidth": 3}},
            {"transform": [{"filter": "datum.m == 'M'"}], "mark": {"type": "line", "strokeWidth": 3}}
          ]
        }
      ]
    }
  ],
  "resolve": {"scale": {"y": "independent"}}
}
